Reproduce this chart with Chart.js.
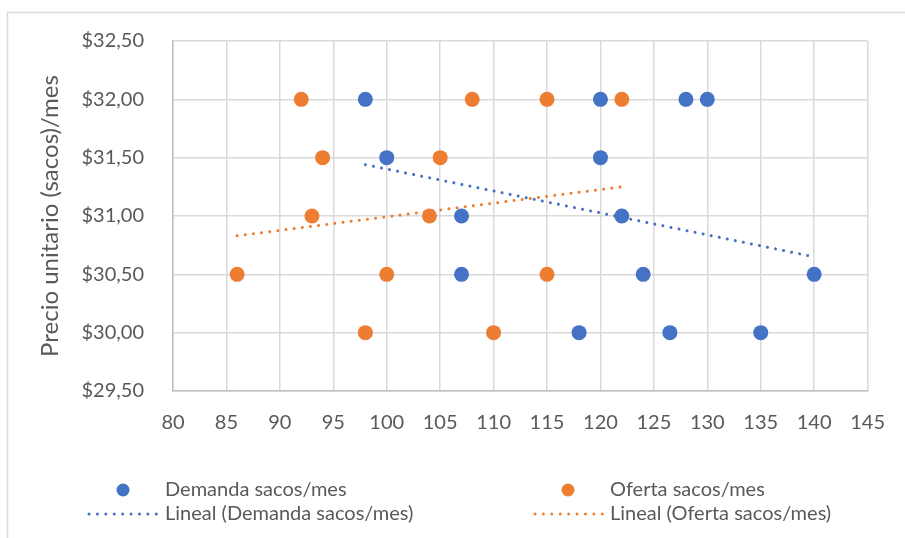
<!DOCTYPE html>
<html>
<head>
<meta charset="utf-8">
<script src="https://cdn.jsdelivr.net/npm/chart.js@4.4.1/dist/chart.umd.min.js"></script>
<style>
  html, body { margin: 0; padding: 0; background: #ffffff; }
  #wrap { position: relative; width: 905px; height: 538px; }
</style>
</head>
<body>
<div id="wrap"><canvas id="grafico" width="905" height="538"></canvas></div>
<script>
// Demanda: cantidad (sacos/mes) y precio unitario
const demandaCantidad = [98, 100, 107, 107, 118, 120, 120, 122, 124, 126.5, 128, 130, 135, 140];
const demandaPrecio   = [32, 31.5, 31, 30.5, 30, 32, 31.5, 31, 30.5, 30, 32, 32, 30, 30.5];

// Oferta: cantidad (sacos/mes) y precio unitario
const ofertaCantidad = [86, 92, 93, 94, 98, 100, 104, 105, 108, 110, 115, 115, 122];
const ofertaPrecio   = [30.5, 32, 31, 31.5, 30, 30.5, 31, 31.5, 32, 30, 32, 30.5, 32];

// Líneas de tendencia lineal (extremos)
const tendDemandaX = [98, 140];
const tendDemandaY = [31.44, 30.65];
const tendOfertaX  = [86, 122];
const tendOfertaY  = [30.83, 31.25];

// Marcas de los ejes
const ticksX = [80, 85, 90, 95, 100, 105, 110, 115, 120, 125, 130, 135, 140, 145];
const ticksY = [29.5, 30, 30.5, 31, 31.5, 32, 32.5];
const etiquetasY = ['$29,50', '$30,00', '$30,50', '$31,00', '$31,50', '$32,00', '$32,50'];

const AZUL = '#4472C4';
const NARANJA = '#ED7D31';
const TEXTO = '#595959';
const FUENTE = 'Lato';

const puntos = (xs, ys) => xs.map((x, i) => ({ x: x, y: ys[i] }));

// Marco exterior del gráfico
const marco = {
  id: 'marco',
  beforeDraw(chart) {
    const ctx = chart.ctx;
    ctx.save();
    ctx.strokeStyle = '#d9d9d9';
    ctx.lineWidth = 1.5;
    ctx.strokeRect(7.5, 12.5, 1000, 1000);
    ctx.restore();
  }
};

// Leyenda en dos columnas
const leyenda = {
  id: 'leyenda',
  afterDraw(chart) {
    const ctx = chart.ctx;
    const ds = chart.data.datasets;
    const items = [
      { d: ds[0], tipo: 'punto', mx: 123, x0: 0, x1: 0, tx: 165, y: 490 },
      { d: ds[1], tipo: 'punto', mx: 568, x0: 0, x1: 0, tx: 610, y: 490 },
      { d: ds[2], tipo: 'linea', mx: 0, x0: 89, x1: 157, tx: 165, y: 514 },
      { d: ds[3], tipo: 'linea', mx: 0, x0: 535, x1: 603, tx: 610, y: 514 }
    ];
    ctx.save();
    items.forEach(it => {
      if (it.tipo === 'punto') {
        ctx.fillStyle = it.d.backgroundColor;
        ctx.beginPath();
        ctx.arc(it.mx, it.y, 6.5, 0, Math.PI * 2);
        ctx.fill();
      } else {
        ctx.strokeStyle = it.d.borderColor;
        ctx.lineWidth = 3;
        ctx.lineCap = 'round';
        ctx.setLineDash([0.01, 8.4]);
        ctx.beginPath();
        ctx.moveTo(it.x0, it.y);
        ctx.lineTo(it.x1, it.y);
        ctx.stroke();
        ctx.setLineDash([]);
      }
      ctx.fillStyle = TEXTO;
      ctx.font = '20px ' + FUENTE;
      ctx.textBaseline = 'middle';
      ctx.textAlign = 'left';
      ctx.fillText(it.d.label, it.tx, it.y);
    });
    ctx.restore();
  }
};

new Chart(document.getElementById('grafico'), {
  type: 'scatter',
  data: {
    datasets: [
      {
        label: 'Demanda sacos/mes',
        data: puntos(demandaCantidad, demandaPrecio),
        backgroundColor: AZUL,
        borderColor: AZUL,
        pointRadius: 7.5,
        pointHoverRadius: 7.5,
        borderWidth: 0,
        order: 3
      },
      {
        label: 'Oferta sacos/mes',
        data: puntos(ofertaCantidad, ofertaPrecio),
        backgroundColor: NARANJA,
        borderColor: NARANJA,
        pointRadius: 7.5,
        pointHoverRadius: 7.5,
        borderWidth: 0,
        order: 2
      },
      {
        label: 'Lineal (Demanda sacos/mes)',
        data: puntos(tendDemandaX, tendDemandaY),
        showLine: true,
        borderColor: AZUL,
        backgroundColor: AZUL,
        borderWidth: 3,
        borderCapStyle: 'round',
        borderDash: [0.01, 8.2],
        pointRadius: 0,
        fill: false,
        order: 1
      },
      {
        label: 'Lineal (Oferta sacos/mes)',
        data: puntos(tendOfertaX, tendOfertaY),
        showLine: true,
        borderColor: NARANJA,
        backgroundColor: NARANJA,
        borderWidth: 3,
        borderCapStyle: 'round',
        borderDash: [0.01, 8.2],
        pointRadius: 0,
        fill: false,
        order: 0
      }
    ]
  },
  options: {
    responsive: false,
    animation: false,
    devicePixelRatio: 1,
    layout: { padding: { left: 0, top: 41, right: 32, bottom: 87 } },
    plugins: {
      legend: { display: false },
      tooltip: { enabled: false },
      title: { display: false }
    },
    scales: {
      x: {
        type: 'linear',
        min: 80,
        max: 145,
        afterBuildTicks: s => { s.ticks = ticksX.map(v => ({ value: v })); },
        afterFit: s => { s.height = 60; },
        grid: { color: '#d9d9d9', lineWidth: 1.5, drawTicks: false },
        border: { color: '#bfbfbf', width: 1.5 },
        ticks: {
          color: TEXTO,
          font: { family: FUENTE, size: 20 },
          padding: 20,
          maxRotation: 0,
          autoSkip: false
        }
      },
      y: {
        type: 'linear',
        min: 29.5,
        max: 32.5,
        afterBuildTicks: s => { s.ticks = ticksY.map(v => ({ value: v })); },
        afterFit: s => { s.width = 173; },
        grid: { color: '#d9d9d9', lineWidth: 1.5, drawTicks: false },
        border: { color: '#bfbfbf', width: 1.5 },
        ticks: {
          color: TEXTO,
          font: { family: FUENTE, size: 20 },
          padding: 29,
          autoSkip: false,
          callback: (v) => etiquetasY[ticksY.indexOf(v)]
        },
        title: {
          display: true,
          text: 'Precio unitario (sacos)/mes',
          color: TEXTO,
          font: { family: FUENTE, size: 24 },
          padding: { top: 36, bottom: 0 }
        }
      }
    }
  },
  plugins: [marco, leyenda]
});
</script>
</body>
</html>
